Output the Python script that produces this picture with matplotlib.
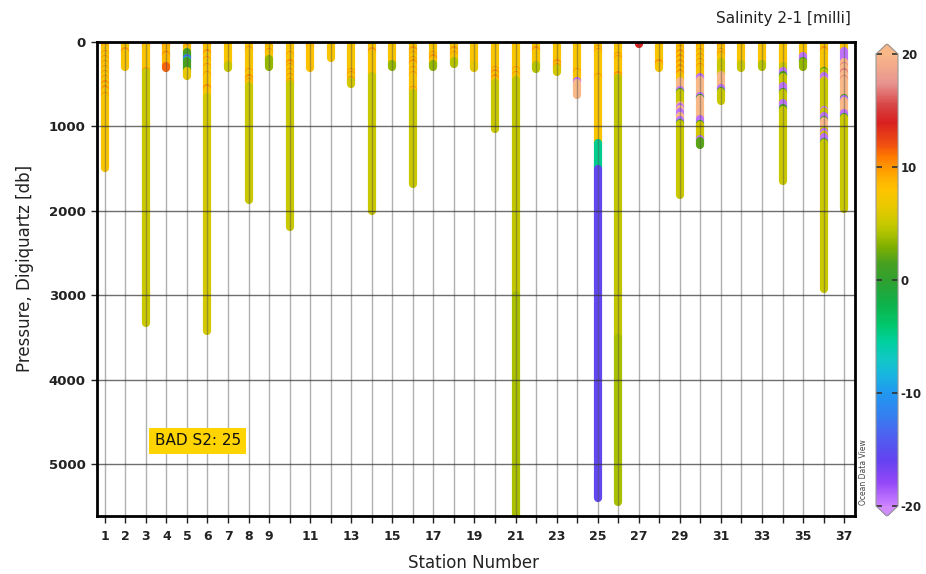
import matplotlib
matplotlib.use("Agg")
import matplotlib.pyplot as plt
from matplotlib.colors import LinearSegmentedColormap, Normalize
from matplotlib.cm import ScalarMappable

# ---------------------------------------------------------------- data
stations = list(range(1, 38))

# deepest sample of each cast [db]
p_max = [1495, 298, 3330, 305, 403, 3425, 305, 1875, 293, 2195,
         305, 195, 494, 2003, 298, 1683, 298, 258, 305, 1035,
         5800, 317, 353, 629, 5400, 5450, 20, 305, 1815, 1220,
         700, 305, 293, 1646, 298, 2925, 1980]

# S2-S1 difference [milli] in the upper layer, the depth where it changes,
# and the value below that depth
upper_value = [7.5, 7.5, 7.5, 8.5, 7.5, 7.5, 7.5, 7.5, 7.5, 7.5,
               8, 7.5, 7.5, 7.5, 7.5, 7.5, 7.5, 7.5, 7.5, 7.5,
               7.5, 7.5, 7.5, 7.5, 7.5, 7.5, 14, 7.5, 7.5, 7.5,
               7.5, 7.5, 7.5, 7.5, 7.5, 7.5, 7.5]
layer_break = [1495, 298, 360, 305, 120, 650, 290, 520, 200, 500,
               305, 195, 460, 400, 255, 600, 255, 225, 270, 480,
               450, 275, 310, 490, 1200, 430, 20, 305, 460, 410,
               240, 265, 255, 280, 170, 340, 110]
lower_value = [7.5, 7.5, 5, 8.5, 1.5, 5.5, 5, 5, 3.5, 5,
               8, 7.5, 5.5, 5, 3.5, 5, 3.5, 4.5, 6.5, 5,
               4.8, 4.5, 5.5, 20, -15.5, 4.8, 14, 7.5, 5, 5.5,
               5, 5, 4.5, 5, 3.5, 5, 5]

# layers within a cast: (station, top [db], bottom [db], value [milli])
bands = [
    (4, 285, 305, 11.5),
    (5, 185, 200, -10), (5, 200, 212, -16), (5, 212, 225, -7), (5, 340, 403, 6.5),
    (7, 270, 305, 5),
    (21, 3000, 5800, 4),
    (24, 460, 490, -19.5),
    (25, 1200, 1500, -5),
    (26, 3500, 5450, 4),
    (29, 460, 565, 20), (29, 565, 590, -19.5), (29, 590, 605, 1),
    (29, 740, 770, 20), (29, 770, 795, -19.5), (29, 795, 830, 20),
    (29, 830, 880, -19.5), (29, 880, 925, 20), (29, 925, 955, -19.5), (29, 955, 975, 1),
    (30, 410, 450, -19.5), (30, 450, 635, 20), (30, 635, 660, -19.5), (30, 660, 675, 1),
    (30, 675, 910, 20), (30, 910, 965, -19.5), (30, 965, 980, 1),
    (30, 1150, 1170, -19.5), (30, 1170, 1220, 2),
    (31, 390, 545, 20), (31, 545, 575, -19.5), (31, 575, 595, 1),
    (34, 345, 395, -19.5), (34, 395, 412, 1), (34, 525, 590, -19.5), (34, 590, 605, 1),
    (34, 720, 785, -19.5), (34, 785, 800, 1),
    (35, 170, 220, -19.5), (35, 220, 235, 1),
    (36, 340, 355, 1), (36, 405, 445, -19.5), (36, 445, 460, 18),
    (36, 800, 815, -19.5), (36, 815, 830, 18), (36, 870, 920, -19.5), (36, 920, 935, 1),
    (36, 935, 1040, 20), (36, 1070, 1090, -19.5), (36, 1090, 1105, 18),
    (36, 1130, 1180, -19.5), (36, 1180, 1195, 1),
    (37, 110, 235, -19.5), (37, 235, 660, 20), (37, 660, 675, 1), (37, 675, 700, -19.5),
    (37, 700, 835, 20), (37, 835, 890, -19.5), (37, 890, 905, 1),
]

# single outlying samples: (station, pressure [db], value [milli])
rings = [
    (1, 60, 10), (1, 140, 10), (1, 200, 10), (1, 260, 10), (1, 320, 10),
    (1, 380, 10), (1, 440, 10), (1, 500, 10), (1, 560, 10), (1, 640, 10),
    (2, 30, 10), (2, 110, 10),
    (3, 40, 10), (3, 340, 10),
    (4, 40, 11), (4, 150, 11),
    (5, 20, 10), (5, 70, 10),
    (6, 40, 10), (6, 136, 10), (6, 215, 10), (6, 290, 10), (6, 392, 10), (6, 550, 10),
    (8, 97, 10), (8, 352, 10), (8, 431, 10), (8, 470, 10),
    (9, 60, 10), (9, 120, 10),
    (10, 156, 10), (10, 254, 10), (10, 293, 10), (10, 352, 10), (10, 411, 10), (10, 470, 10),
    (11, 50, 10),
    (13, 352, 10), (13, 392, 10), (13, 451, 10),
    (14, 30, 10), (14, 110, 10),
    (16, 100, 10), (16, 156, 10), (16, 215, 10), (16, 254, 10), (16, 333, 10),
    (16, 392, 10), (16, 570, 10),
    (17, 156, 10), (17, 195, 10),
    (18, 30, 10), (18, 100, 10), (18, 150, 10),
    (20, 333, 10), (20, 372, 10), (20, 431, 10),
    (21, 330, 10), (21, 390, 10),
    (22, 100, 10),
    (23, 254, 10), (23, 293, 10),
    (24, 352, 10),
    (25, 77, 10), (25, 116, 10), (25, 411, 10),
    (26, 160, 10), (26, 200, 10), (26, 396, 10),
    (28, 0, 13), (28, 254, 10),
    (29, 77, 10), (29, 136, 10), (29, 195, 10), (29, 254, 10), (29, 313, 10), (29, 372, 10),
    (30, 57, 10), (30, 116, 10), (30, 175, 10), (30, 234, 10), (30, 293, 10),
    (31, 57, 10), (31, 116, 10), (31, 156, 10),
    (36, 30, 10), (36, 100, 10),
    (37, 280, 17), (37, 360, 17), (37, 440, 17),
]

x_tick_labels = ['1', '2', '3', '4', '5', '6', '7', '8', '9', '', '11', '', '13', '',
                 '15', '', '17', '', '19', '', '21', '', '23', '', '25', '', '27', '',
                 '29', '', '31', '', '33', '', '35', '', '37']
y_ticks = [0, 1000, 2000, 3000, 4000, 5000]

# ---------------------------------------------------------------- colour scale
scale_colors = [
    (-20, '#cc80ff'), (-18, '#9448f8'), (-16, '#6442f0'), (-14, '#505ef0'),
    (-12, '#3480f0'), (-10, '#2098f0'), (-8.5, '#18b4e0'), (-7, '#10c8c4'),
    (-5.5, '#00d0a0'), (-4, '#00c86c'), (-2, '#10b048'), (0, '#30a030'),
    (1.5, '#48a020'), (3, '#80b000'), (4, '#a8c000'), (5, '#c8c800'),
    (6.5, '#e8c800'), (8, '#ffc400'), (9, '#ffb000'), (10, '#ff9800'),
    (11, '#ff7800'), (12, '#f05010'), (14, '#d82020'), (15.5, '#d84444'),
    (17.5, '#e89490'), (20, '#f8b888'),
]
cmap = LinearSegmentedColormap.from_list(
    'odv', [((v + 20) / 40, c) for v, c in scale_colors])
cmap.set_over('#f8b888')
cmap.set_under('#d08cff')
norm = Normalize(-20, 20)

# ---------------------------------------------------------------- figure
fig = plt.figure(figsize=(9.26, 5.74), dpi=100)
ax = fig.add_axes([97 / 926, 1 - 516 / 574, 758 / 926, 474 / 574])
ax.set_xlim(0.62, 37.53)
ax.set_ylim(5610, 0)

LW = 5.9
RING = 15

for i, st in enumerate(stations):
    pm = p_max[i]
    st_bands = [(t, b, v) for s, t, b, v in bands if s == st]
    st_rings = [(p, p + RING, v) for s, p, v in rings if s == st]
    edges = {0.0, float(pm), float(min(layer_break[i], pm))}
    for t, b, _ in st_bands + st_rings:
        edges.update([max(0, min(t, pm)), max(0, min(b, pm))])
    edges = sorted(edges)
    pieces = []
    for a, b in zip(edges[:-1], edges[1:]):
        if b <= a:
            continue
        mid = 0.5 * (a + b)
        val = upper_value[i] if mid < layer_break[i] else lower_value[i]
        for t, bb, v in st_bands + st_rings:
            if t <= mid < bb:
                val = v
        if pieces and pieces[-1][2] == val:
            pieces[-1][1] = b
        else:
            pieces.append([a, b, val])
    for a, b, val in pieces:
        ax.plot([st, st], [a, b], color=cmap(norm(val)), lw=LW,
                solid_capstyle='round', zorder=2)

# grid drawn over the casts
for st in stations:
    ax.axvline(st, color='#505050', lw=1.0, alpha=0.45, zorder=3)
for yt in y_ticks[1:]:
    ax.axhline(yt, color='#303030', lw=1.0, alpha=0.7, zorder=3)

ax.set_xticks(stations)
ax.set_xticklabels(x_tick_labels, fontsize=9, fontweight='bold', color='#222222')
ax.set_yticks(y_ticks)
ax.set_yticklabels([str(v) for v in y_ticks], fontsize=9.5, fontweight='bold', color='#222222')
ax.tick_params(axis='x', length=5, width=1, pad=5, color='#222222')
ax.tick_params(axis='y', length=4, width=1, pad=4, color='#222222')
for sp in ax.spines.values():
    sp.set_linewidth(2.0)
    sp.set_color('black')
    sp.set_zorder(5)

ax.text(5.52, 4720, 'BAD S2: 25', ha='center', va='center', fontsize=11,
        color='#111111', zorder=6,
        bbox=dict(facecolor='#ffd400', edgecolor='none', pad=4.0))

# colour bar with pointed ends
cax = fig.add_axes([876 / 926, 1 - 516 / 574, 22 / 926, 472 / 574])
sm = ScalarMappable(norm=norm, cmap=cmap)
cb = fig.colorbar(sm, cax=cax, extend='both', extendfrac=0.022)
cb.outline.set_edgecolor('#999999')
cb.outline.set_linewidth(0.8)
cb.set_ticks([-20, -10, 0, 10, 20])
cb.ax.set_yticklabels(['-20', '-10', '0', '10', '20'], fontsize=8.5,
                      fontweight='bold', color='#222222')
cb.ax.tick_params(direction='in', length=4, width=1.2, color='#333333',
                  left=True, right=True, pad=2)

fig.text(851 / 926, 1 - 18 / 574, 'Salinity 2-1 [milli]', ha='right', va='center',
         fontsize=11, color='#222222')
fig.text(25 / 926, 1 - 268 / 574, 'Pressure, Digiquartz [db]', rotation=90,
         ha='center', va='center', fontsize=12, color='#222222')
fig.text(474 / 926, 6 / 574, 'Station Number', ha='center', va='baseline',
         fontsize=12, color='#222222')
fig.text(863 / 926, 1 - 472 / 574, 'Ocean Data View', rotation=90, ha='center',
         va='center', fontsize=5.5, color='#444444')

fig.savefig('out.png', dpi=100)
